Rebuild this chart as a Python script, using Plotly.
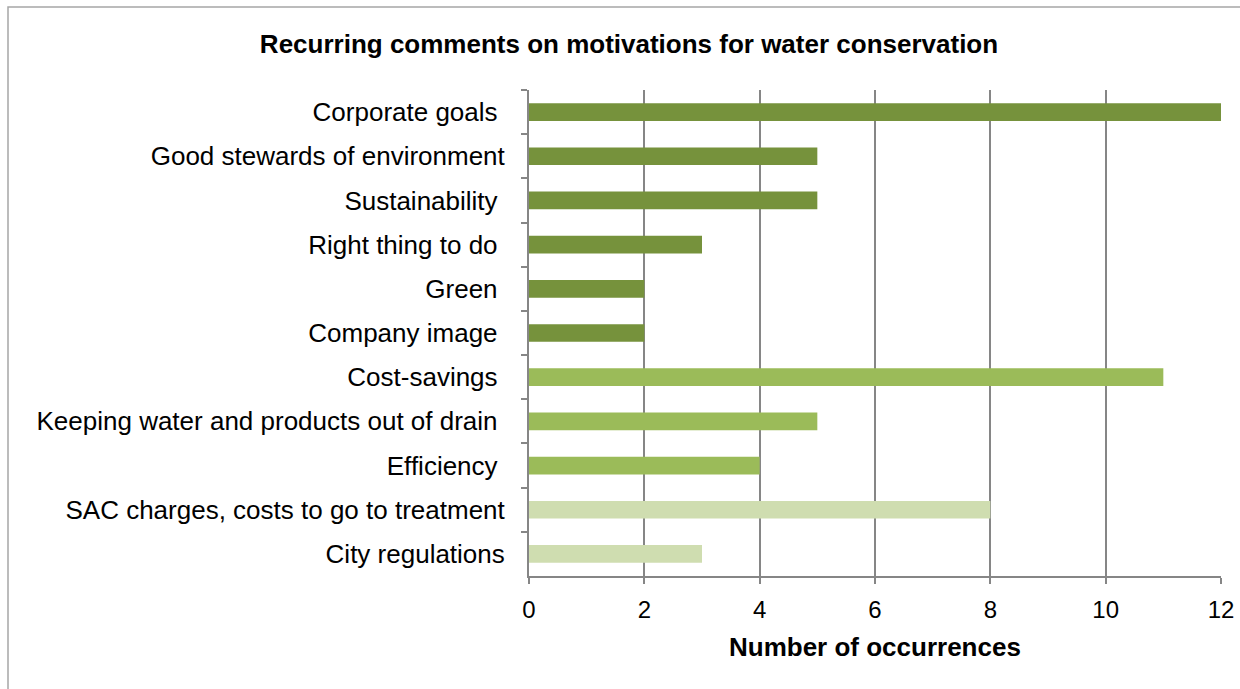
import plotly.graph_objects as go

# Motivations, listed top to bottom
motivations = [
    "Corporate goals\u00a0",
    "Good stewards of environment",
    "Sustainability\u00a0",
    "Right thing to do\u00a0",
    "Green\u00a0",
    "Company image\u00a0",
    "Cost-savings\u00a0",
    "Keeping water and products out of drain\u00a0",
    "Efficiency\u00a0",
    "SAC charges, costs to go to treatment",
    "City regulations",
]
occurrences = [12, 5, 5, 3, 2, 2, 11, 5, 4, 8, 3]
groups = ["image", "image", "image", "image", "image", "image",
          "cost", "cost", "cost", "regulation", "regulation"]
x_ticks = [0, 2, 4, 6, 8, 10, 12]

group_colors = {"image": "#76923C", "cost": "#9BBB59", "regulation": "#CFDDB0"}
bar_colors = [group_colors[g] for g in groups]

FONT = "Liberation Sans, Arial, sans-serif"
GRID = "#868686"

fig = go.Figure(
    go.Bar(
        x=occurrences,
        y=motivations,
        orientation="h",
        width=0.4,
        marker=dict(color=bar_colors, line=dict(width=0)),
        hoverinfo="skip",
    )
)

# Plot area geometry in pixels
W, H = 1240, 689
L, R, T, B = 529, 1221, 90, 576
pw, ph = R - L, B - T

fig.update_layout(
    width=W,
    height=H,
    margin=dict(l=L, r=W - R, t=T, b=H - B, pad=0, autoexpand=False),
    paper_bgcolor="white",
    plot_bgcolor="white",
    showlegend=False,
    font=dict(family=FONT, color="#000000"),
    title=dict(
        text="<b>Recurring comments on motivations for water conservation</b>",
        x=629 / W,
        xanchor="center",
        y=1 - 44 / H,
        yanchor="middle",
        font=dict(size=26, family=FONT, color="#000000"),
    ),
    xaxis=dict(
        range=[0, 12],
        tickvals=x_ticks,
        ticktext=[str(v) for v in x_ticks],
        showgrid=True,
        gridcolor=GRID,
        gridwidth=1.5,
        zeroline=False,
        showline=True,
        linecolor=GRID,
        linewidth=1.5,
        ticks="outside",
        ticklen=6,
        tickcolor=GRID,
        tickwidth=1.5,
        ticklabelstandoff=5,
        ticklabeloverflow="allow",
        automargin=False,
        tickfont=dict(size=24, family=FONT, color="#000000"),
        fixedrange=True,
    ),
    yaxis=dict(
        autorange="reversed",
        type="category",
        showgrid=False,
        zeroline=False,
        showline=True,
        linecolor=GRID,
        linewidth=2,
        ticks="outside",
        tickson="boundaries",
        ticklen=6,
        tickcolor=GRID,
        tickwidth=1.5,
        ticklabelstandoff=17,
        ticklabeloverflow="allow",
        automargin=False,
        tickfont=dict(size=26, family=FONT, color="#000000"),
        fixedrange=True,
    ),
    annotations=[
        dict(
            text="<b>Number of occurrences</b>",
            xref="paper",
            yref="paper",
            x=0.5,
            y=(B - 647) / ph,
            xanchor="center",
            yanchor="middle",
            showarrow=False,
            font=dict(size=26, family=FONT, color="#000000"),
        )
    ],
    shapes=[
        dict(
            type="rect",
            xref="paper",
            yref="paper",
            x0=(8 - L) / pw,
            x1=(W + 10 - L) / pw,
            y0=(B - 7) / ph,
            y1=(B - H - 10) / ph,
            line=dict(color="#A6A6A6", width=1.5),
            fillcolor="rgba(0,0,0,0)",
            layer="below",
        )
    ],
)

fig.write_html("out.html")
